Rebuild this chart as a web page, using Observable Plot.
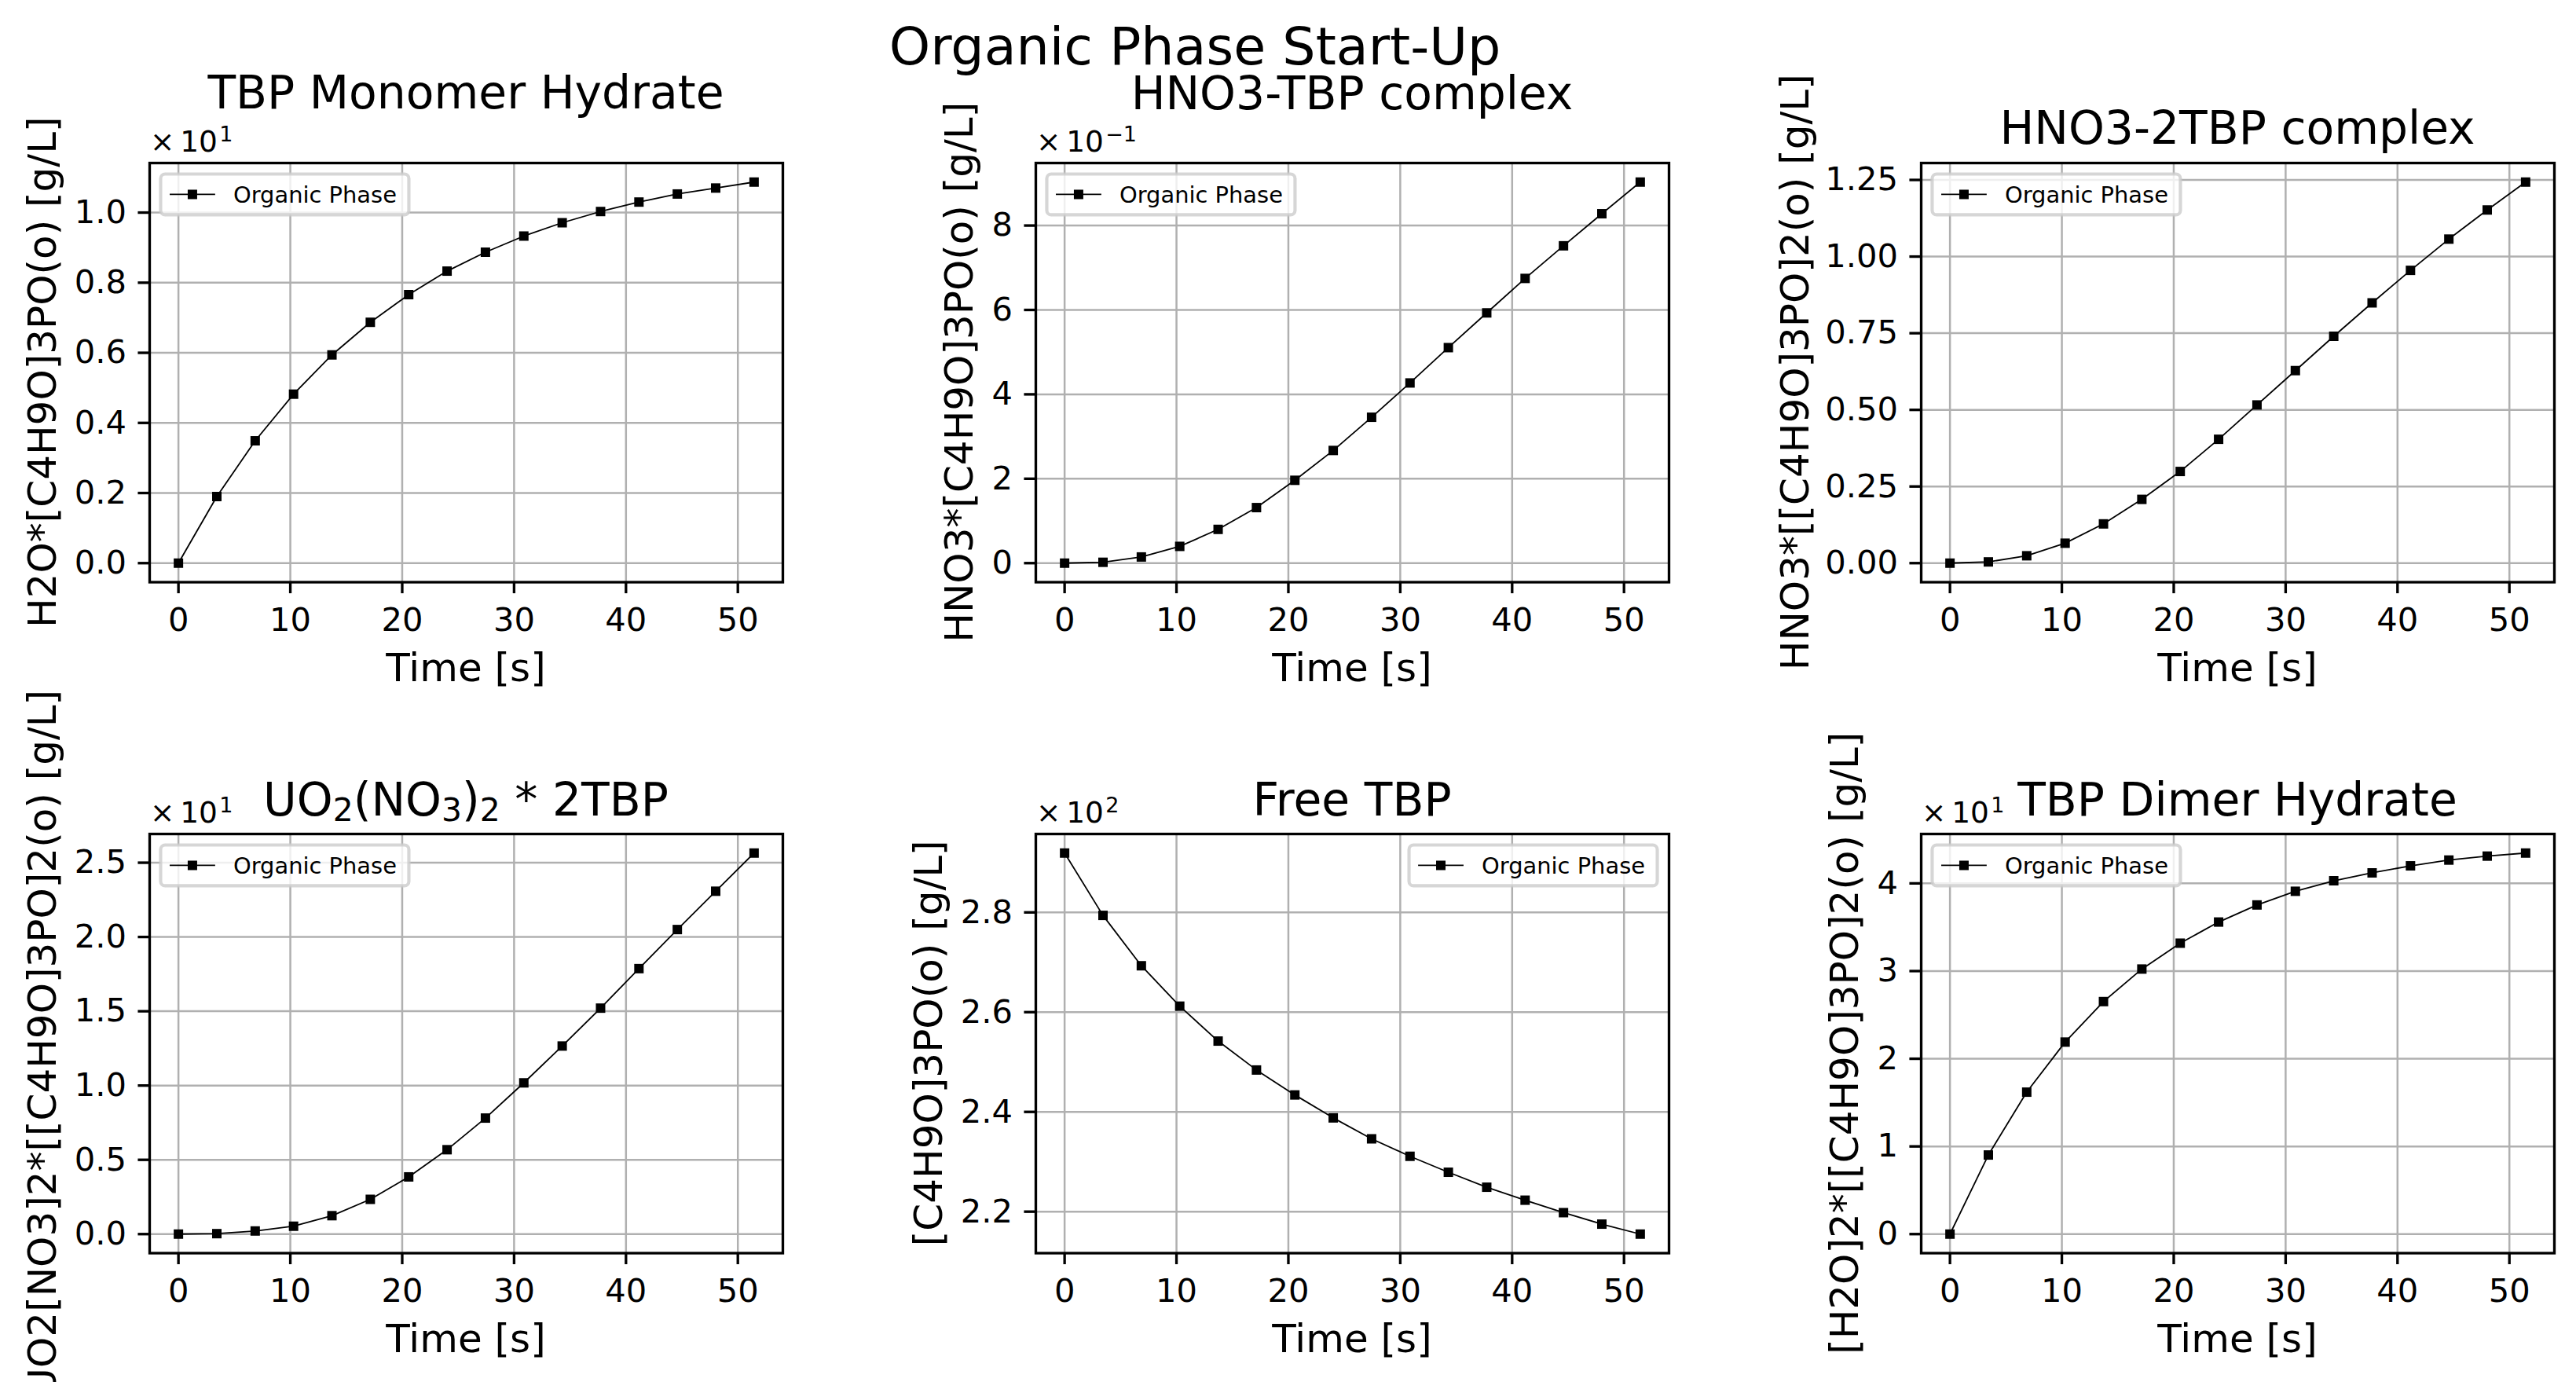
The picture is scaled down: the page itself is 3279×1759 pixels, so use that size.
<!DOCTYPE html>
<html>
<head>
<meta charset="utf-8">
<script src="https://cdn.jsdelivr.net/npm/d3@7"></script>
<script src="https://cdn.jsdelivr.net/npm/@observablehq/plot@0.6"></script>
<style>
  html, body { margin: 0; padding: 0; overflow: hidden; background: white; }
  #figure { position: relative; width: 3279px; height: 1759px; overflow: hidden; background: white; }
  #figure svg { position: absolute; overflow: visible; background: transparent; max-width: none; }
</style>
</head>
<body>
<div id="figure"></div>
<script>
// Sampling times of the start-up run [s]
const time = [0, 3.43, 6.86, 10.29, 13.72, 17.15, 20.58, 24.01, 27.44, 30.87, 34.30, 37.73, 41.16, 44.59, 48.02, 51.45];
const timeTicks = [0, 10, 20, 30, 40, 50];

// Organic-phase concentrations [g/L]
const monomerHydrate = [0, 1.90, 3.49, 4.82, 5.94, 6.87, 7.66, 8.33, 8.87, 9.33, 9.71, 10.03, 10.30, 10.53, 10.70, 10.87];
const hno3Tbp = [0, 0.002, 0.0146, 0.0397, 0.080, 0.1316, 0.1963, 0.267, 0.3457, 0.427, 0.5107, 0.593, 0.6747, 0.752, 0.828, 0.903];
const hno32Tbp = [0, 0.004, 0.024, 0.065, 0.128, 0.208, 0.299, 0.404, 0.516, 0.628, 0.740, 0.849, 0.955, 1.057, 1.152, 1.243];
const uranylTbp = [0, 0.03, 0.21, 0.53, 1.24, 2.34, 3.85, 5.68, 7.81, 10.18, 12.66, 15.21, 17.87, 20.50, 23.08, 25.65];
const freeTbp = [291.9, 279.4, 269.3, 261.2, 254.2, 248.4, 243.4, 238.8, 234.6, 231.1, 227.9, 224.9, 222.3, 219.8, 217.5, 215.5];
const dimerHydrate = [0, 9.02, 16.19, 21.90, 26.52, 30.23, 33.18, 35.59, 37.54, 39.10, 40.30, 41.20, 42.00, 42.66, 43.11, 43.46];

// y tick values [g/L]
const monomerTicks = [0, 2, 4, 6, 8, 10];
const hno3TbpTicks = [0, 0.2, 0.4, 0.6, 0.8];
const hno32TbpTicks = [0, 0.25, 0.5, 0.75, 1, 1.25];
const uranylTicks = [0, 5, 10, 15, 20, 25];
const freeTbpTicks = [220, 240, 260, 280];
const dimerTicks = [0, 10, 20, 30, 40];

const seriesName = "Organic Phase";
const figureTitle = "Organic Phase Start-Up";
const xLabel = "Time [s]";

const panels = [
  {title: [["TBP Monomer Hydrate"]], ylabel: "H2O*[C4H9O]3PO(o) [g/L]", values: monomerHydrate, ticks: monomerTicks, exponent: 1, decimals: 1, legend: "left", titleDy: -69, labelDx: -119},
  {title: [["HNO3-TBP complex"]], ylabel: "HNO3*[C4H9O]3PO(o) [g/L]", values: hno3Tbp, ticks: hno3TbpTicks, exponent: -1, decimals: 0, legend: "left", titleDy: -68.5, labelDx: -80},
  {title: [["HNO3-2TBP complex"]], ylabel: "HNO3*[[C4H9O]3PO]2(o) [g/L]", values: hno32Tbp, ticks: hno32TbpTicks, exponent: 0, decimals: 2, legend: "left", titleDy: -24, labelDx: -143},
  {title: [["UO"], ["2", "sub"], ["(NO"], ["3", "sub"], [")"], ["2", "sub"], [" * 2TBP"]], ylabel: "UO2[NO3]2*[[C4H9O]3PO]2(o) [g/L]", values: uranylTbp, ticks: uranylTicks, exponent: 1, decimals: 1, legend: "left", titleDy: -23.5, labelDx: -119},
  {title: [["Free TBP"]], ylabel: "[C4H9O]3PO(o) [g/L]", values: freeTbp, ticks: freeTbpTicks, exponent: 2, decimals: 1, legend: "right", titleDy: -23.5, labelDx: -119},
  {title: [["TBP Dimer Hydrate"]], ylabel: "[H2O]2*[[C4H9O]3PO]2(o) [g/L]", values: dimerHydrate, ticks: dimerTicks, exponent: 1, decimals: 0, legend: "left", titleDy: -23.5, labelDx: -80}
];

// Layout (px)
const colLeft = [190, 1317.5, 2444.5];
const rowTop = [206.5, 1060.5];
const BOX_W = 806, BOX_H = 533.5;
const M = {top: 220, right: 40, bottom: 180, left: 200};
const FONT = "DejaVu Sans";
const PT = 300 / 72; // px per point
const GRID = "#b0b0b0";
const LINE_W = 1.8;
const MARK_SIDE = 12;

const figure = document.getElementById("figure");

function addText(g, x, y, parts, {size, anchor = "middle", rotate = 0}) {
  const t = g.append("text")
    .attr("transform", `translate(${x},${y})` + (rotate ? ` rotate(${rotate})` : ""))
    .attr("text-anchor", anchor)
    .attr("font-family", FONT)
    .attr("font-size", size)
    .attr("fill", "black");
  let shift = 0;
  for (const [str, kind] of parts) {
    const s = t.append("tspan").text(str);
    let target = 0;
    if (kind === "sub") { s.attr("font-size", size * 0.7); target = size * 0.12; }
    if (kind === "sup") { s.attr("font-size", size * 0.72); target = -size * 0.36; s.attr("dx", size * 0.06); }
    if (target !== shift) s.attr("dy", target - shift);
    if (kind === "gap") s.attr("dx", size * 0.18);
    shift = target;
  }
  return t;
}

function addLegend(g, x0, y0) {
  const fs = 6.94 * PT;
  const w = 316, h = 52;
  g.append("rect")
    .attr("x", x0).attr("y", y0).attr("width", w).attr("height", h)
    .attr("rx", 0.2 * fs).attr("ry", 0.2 * fs)
    .attr("fill", "white").attr("fill-opacity", 0.8)
    .attr("stroke", "#cccccc").attr("stroke-opacity", 0.8).attr("stroke-width", 1.0 * PT);
  const cy = y0 + h / 2;
  const lx0 = x0 + 0.4 * fs, lx1 = lx0 + 2.0 * fs;
  g.append("line").attr("x1", lx0).attr("x2", lx1).attr("y1", cy).attr("y2", cy)
    .attr("stroke", "black").attr("stroke-width", LINE_W);
  g.append("rect").attr("x", (lx0 + lx1) / 2 - MARK_SIDE / 2).attr("y", cy - MARK_SIDE / 2)
    .attr("width", MARK_SIDE).attr("height", MARK_SIDE).attr("fill", "black");
  g.append("text").attr("x", lx1 + 0.8 * fs).attr("y", cy + 0.35 * fs)
    .attr("text-anchor", "start")
    .attr("font-family", FONT).attr("font-size", fs).attr("fill", "black")
    .text(seriesName);
}

function exponentText(e) {
  return String(e).replace("-", "\u2212");
}

panels.forEach((spec, i) => {
  const col = i % 3, row = Math.floor(i / 3);
  const boxLeft = colLeft[col], boxTop = rowTop[row];
  const data = time.map((t, j) => ({t, v: spec.values[j]}));
  const [xmin, xmax] = d3.extent(time);
  const [ymin, ymax] = d3.extent(spec.values);
  const xpad = (xmax - xmin) * 0.05, ypad = (ymax - ymin) * 0.05;
  const k = Math.pow(10, spec.exponent);

  const svg = Plot.plot({
    width: BOX_W + M.left + M.right,
    height: BOX_H + M.top + M.bottom,
    marginTop: M.top, marginRight: M.right, marginBottom: M.bottom, marginLeft: M.left,
    style: {background: "transparent", fontFamily: FONT, color: "black", overflow: "visible"},
    x: {domain: [xmin - xpad, xmax + xpad]},
    y: {domain: [ymin - ypad, ymax + ypad]},
    marks: [
      Plot.gridX(timeTicks, {stroke: GRID, strokeOpacity: 1, strokeWidth: 2.5}),
      Plot.gridY(spec.ticks, {stroke: GRID, strokeOpacity: 1, strokeWidth: 2.5}),
      Plot.line(data, {x: "t", y: "v", stroke: "black", strokeWidth: LINE_W}),
      Plot.dot(data, {x: "t", y: "v", symbol: "square", r: MARK_SIDE / Math.sqrt(Math.PI), fill: "black"}),
      Plot.frame({stroke: "black", strokeWidth: 0.8 * PT}),
      Plot.axisX(timeTicks, {tickSize: 3.5 * PT, tickPadding: 17.8, fontSize: 10 * PT, stroke: "black", strokeWidth: 0.8 * PT, label: null, tickFormat: d => String(d)}),
      Plot.axisY(spec.ticks, {tickSize: 3.5 * PT, tickPadding: 15, fontSize: 10 * PT, stroke: "black", strokeWidth: 0.8 * PT, label: null, tickFormat: d => (d / k).toFixed(spec.decimals)})
    ]
  });
  svg.style.left = (boxLeft - M.left) + "px";
  svg.style.top = (boxTop - M.top) + "px";
  svg.style.position = "absolute";
  svg.style.overflow = "visible";
  svg.style.background = "transparent";
  svg.style.maxWidth = "none";

  const g = d3.select(svg).append("g");
  const cx = M.left + BOX_W / 2;

  // subplot title
  addText(g, cx, M.top + spec.titleDy, spec.title, {size: 14 * PT});

  // scale factor of the y axis
  if (spec.exponent !== 0) {
    addText(g, M.left + 1, M.top - 13.8,
      [["\u00d7"], ["10", "gap"], [exponentText(spec.exponent), "sup"]],
      {size: 9 * PT, anchor: "start"});
  }

  // axis labels
  addText(g, M.left + spec.labelDx, M.top + BOX_H / 2, [[spec.ylabel]], {size: 12 * PT, rotate: -90});
  addText(g, cx, M.top + BOX_H + 126, [[xLabel]], {size: 12 * PT});

  // legend
  const legW = 316, pad = 0.5 * 6.94 * PT;
  const lx = spec.legend === "right" ? M.left + BOX_W - pad - legW : M.left + pad;
  addLegend(g, lx, M.top + pad);

  figure.appendChild(svg);
});

// figure title
const head = d3.select(figure).append("svg")
  .attr("width", 3279).attr("height", 120)
  .style("left", "0px").style("top", "0px");
head.append("text")
  .attr("x", 1521).attr("y", 82)
  .attr("text-anchor", "middle")
  .attr("font-family", FONT)
  .attr("font-size", 16 * PT)
  .attr("fill", "black")
  .text(figureTitle);
</script>
</body>
</html>
